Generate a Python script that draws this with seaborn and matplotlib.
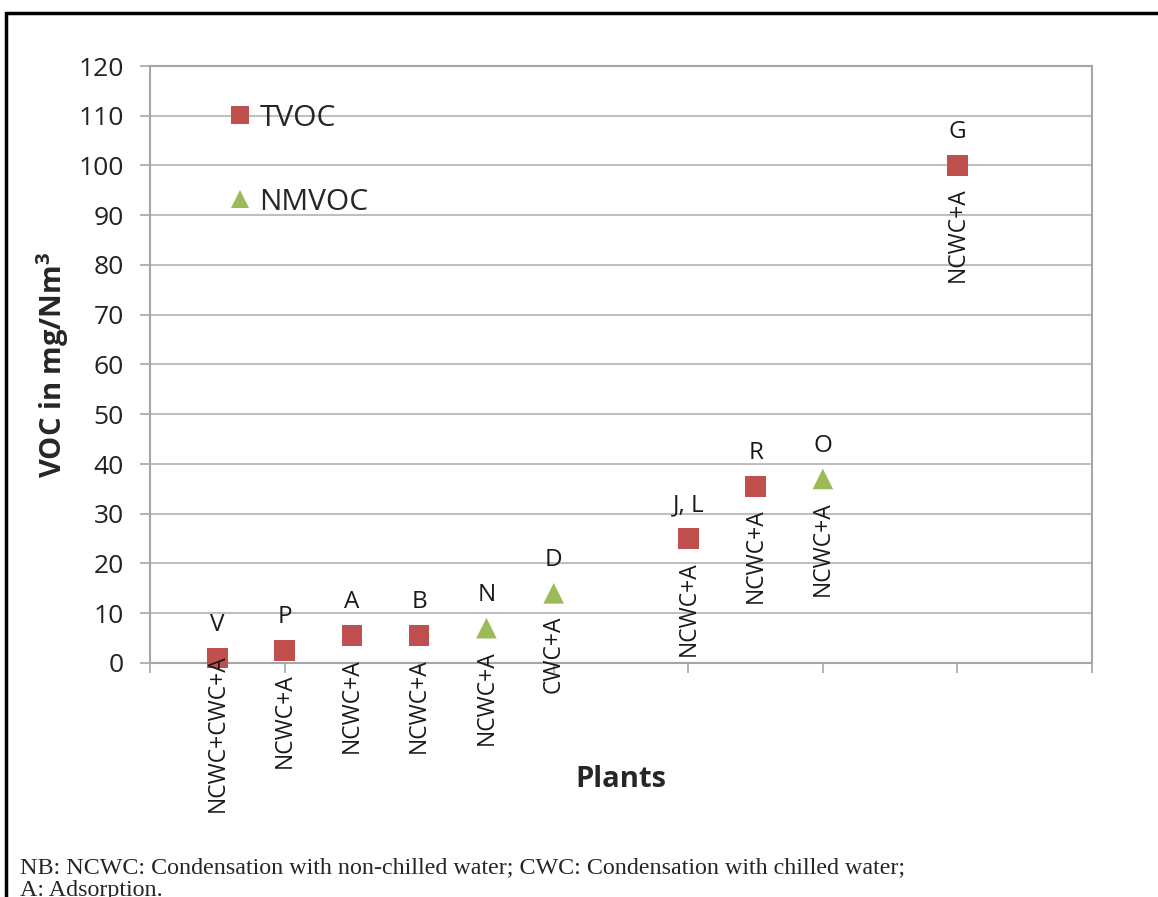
"""
VOC emissions per plant (TVOC / NMVOC) with abatement technique labels.
"""
import pandas as pd
import matplotlib.pyplot as plt
import seaborn as sns
from matplotlib.patches import Rectangle

# --------------------------
# Data
# --------------------------
plants = ['V', 'P', 'A', 'B', 'N', 'D', 'J, L', 'R', 'O', 'G']
plant_pos = [1, 2, 3, 4, 5, 6, 8, 9, 10, 12]
voc_values = [1.0, 2.5, 5.5, 5.5, 7.0, 14.0, 25.0, 35.5, 37.0, 100.0]
voc_type = ['TVOC', 'TVOC', 'TVOC', 'TVOC', 'NMVOC', 'NMVOC', 'TVOC', 'TVOC', 'NMVOC', 'TVOC']
techniques = ['NCWC+CWC+A', 'NCWC+A', 'NCWC+A', 'NCWC+A', 'NCWC+A', 'CWC+A',
              'NCWC+A', 'NCWC+A', 'NCWC+A', 'NCWC+A']
y_ticks = list(range(0, 121, 10))
footnote_1 = "NB: NCWC: Condensation with non-chilled water; CWC: Condensation with chilled water;"
footnote_2 = "A: Adsorption."

df = pd.DataFrame({'plant': plants, 'x': plant_pos, 'voc': voc_values,
                   'type': voc_type, 'technique': techniques})

sns.set_theme(style='white')
plt.rcParams['font.family'] = ['Open Sans', 'DejaVu Sans']

fig = plt.figure(figsize=(11.58, 8.97), dpi=100)
ax = fig.add_axes([150 / 1158, 1 - 663 / 897, 942 / 1158, 597 / 897])

sns.scatterplot(data=df, x='x', y='voc', hue='type', style='type',
                hue_order=['TVOC', 'NMVOC'],
                palette={'TVOC': '#C0504D', 'NMVOC': '#9BBB59'},
                markers={'TVOC': 's', 'NMVOC': '^'},
                s=220, edgecolor='none', ax=ax, zorder=3, clip_on=False)

# letter above each point, technique rotated below
for _, row in df.iterrows():
    ax.annotate(row['plant'], (row['x'], row['voc']), xytext=(0, 24),
                textcoords='offset points', ha='center', va='center',
                fontsize=17.5, color='#1a1a1a')
    below = -16 if row['plant'] != 'V' else 3
    ax.annotate(row['technique'], (row['x'], row['voc']), xytext=(0, below),
                textcoords='offset points', ha='center', va='top',
                rotation=90, fontsize=16.5, color='#1a1a1a')

ax.set_xlim(0, 14)
ax.set_ylim(0, 120)
ax.set_yticks(y_ticks)
ax.set_xticks(range(0, 15, 2))
ax.set_xticklabels([])
ax.tick_params(axis='y', labelsize=19, colors='#A6A6A6', labelcolor='#222222',
               direction='out', length=7, width=1.2, left=True, pad=12)
ax.tick_params(axis='x', colors='#A6A6A6', direction='out', length=7,
               width=1.2, bottom=True)
ax.yaxis.grid(True, color='#BFBFBF', linewidth=1.5)
ax.set_axisbelow(True)
for sp in ax.spines.values():
    sp.set_color('#A6A6A6')
    sp.set_linewidth(1.5)

ax.set_xlabel('Plants', fontsize=21, fontweight='bold', labelpad=63)
ax.set_ylabel('VOC in mg/Nm$^\\mathregular{3}$', fontsize=21, fontweight='bold', labelpad=5)

ax.legend(frameon=False, loc='upper left', bbox_to_anchor=(0.064, 0.962),
          fontsize=21.5, labelspacing=1.85, handlelength=1.0, handletextpad=0.15,
          borderpad=0, markerscale=0.9)

# outer frame of the figure (cut at right and bottom)
fig.patches.append(Rectangle((6 / 1158, -0.1), 1.2, 1 - 13 / 897 + 0.1,
                             transform=fig.transFigure, fill=False,
                             edgecolor='black', linewidth=2.5))

fig.text(20 / 1158, 1 - 873 / 897, footnote_1, fontsize=17.3,
         family='Liberation Serif', va='baseline', ha='left')
fig.text(20 / 1158, 1 - 896 / 897, footnote_2, fontsize=17.3,
         family='Liberation Serif', va='baseline', ha='left')

fig.savefig('out.png', dpi=100)
